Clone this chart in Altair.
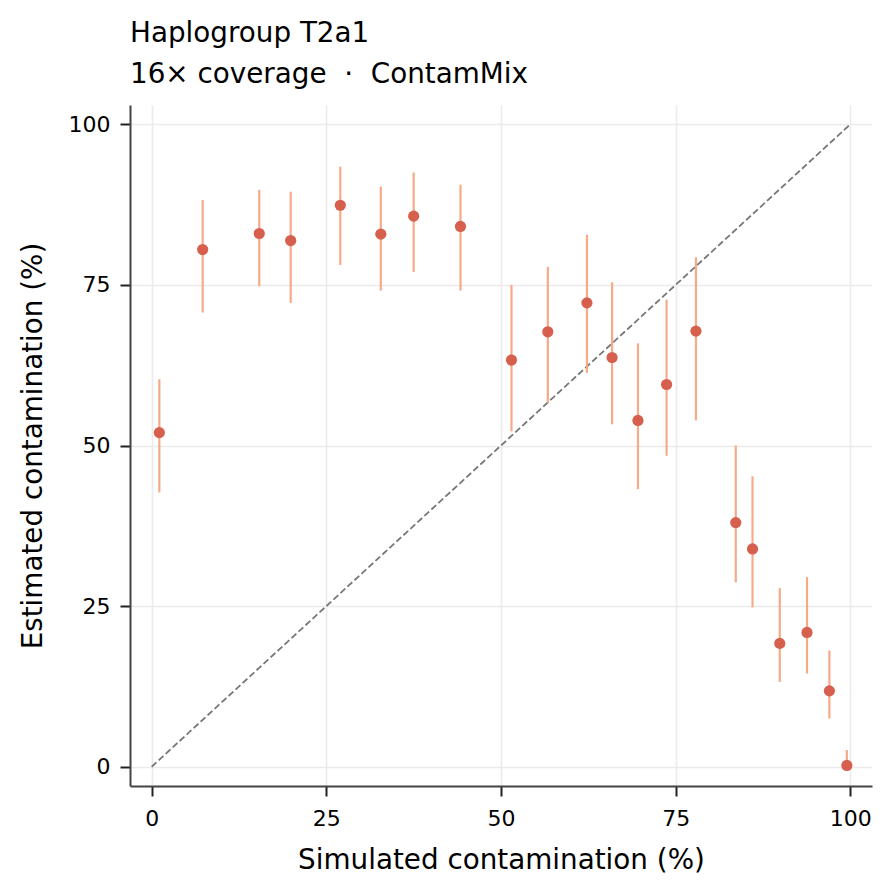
import altair as alt
import pandas as pd

# Data
simulated = [1.1, 7.3, 15.4, 19.9, 27.0, 32.8, 37.5, 44.2, 51.5, 56.7, 62.3, 65.9, 69.6, 73.7, 77.9,
             83.6, 86.0, 89.9, 93.8, 97.0, 99.5]
estimated = [52.0, 80.5, 83.0, 81.9, 87.4, 82.9, 85.7, 84.1, 63.3, 67.7, 72.2, 63.7, 53.9, 59.5, 67.8,
             38.0, 33.9, 19.2, 20.9, 11.8, 0.2]
ci_low = [42.7, 70.7, 74.8, 72.2, 78.1, 74.1, 77.0, 74.1, 52.2, 56.6, 61.3, 53.3, 43.2, 48.4, 53.9,
          28.7, 24.8, 13.2, 14.5, 7.5, 0.0]
ci_high = [60.3, 88.2, 89.8, 89.5, 93.4, 90.3, 92.5, 90.6, 75.0, 77.8, 82.8, 75.4, 65.9, 72.7, 79.3,
           50.0, 45.2, 27.8, 29.5, 18.1, 2.6]
diag_x = [0, 100]
diag_y = [0, 100]
ticks = [0, 25, 50, 75, 100]

df = pd.DataFrame({"sim": simulated, "est": estimated, "lo": ci_low, "hi": ci_high})
diag = pd.DataFrame({"sim": diag_x, "est": diag_y})

FONT = "DejaVu Sans"
xscale = alt.Scale(domain=[-3.1, 103.1], nice=False, zero=False)
yscale = alt.Scale(domain=[-3, 103], nice=False, zero=False)

xaxis = alt.Axis(values=ticks, title="Simulated contamination (%)", titleY=82.3,
                 titleBaseline="alphabetic", labelPadding=12)
yaxis = alt.Axis(values=ticks, title="Estimated contamination (%)", titleX=-89,
                 titleBaseline="alphabetic", titleAngle=270, labelPadding=10)

line = alt.Chart(diag).mark_line(color="#777777", strokeWidth=1.8, strokeDash=[6.5, 3]).encode(
    x=alt.X("sim:Q", scale=xscale, axis=xaxis),
    y=alt.Y("est:Q", scale=yscale, axis=yaxis),
)

bars = alt.Chart(df).mark_rule(color="#f4a582", strokeWidth=2.2, opacity=0.95).encode(
    x=alt.X("sim:Q", scale=xscale),
    y=alt.Y("lo:Q", scale=yscale),
    y2="hi:Q",
)

points = alt.Chart(df).mark_circle(color="#d6604d", size=125, opacity=1).encode(
    x=alt.X("sim:Q", scale=xscale),
    y=alt.Y("est:Q", scale=yscale),
)

chart = alt.layer(line, bars, points).properties(
    width=742,
    height=681,
    autosize=alt.AutoSizeParams(type="none"),
    padding={"left": 122, "top": 97, "right": 14, "bottom": 99},
    title=alt.Title(
        text="Haplogroup T2a1",
        subtitle="16× coverage \u00a0·\u00a0 ContamMix",
        anchor="start",
        frame="group",
        font=FONT,
        subtitleFont=FONT,
        fontSize=27.8,
        subtitleFontSize=27.8,
        fontWeight="normal",
        color="#000000",
        subtitleColor="#000000",
        offset=16,
        subtitlePadding=13,
    ),
).configure_view(stroke=None).configure_axis(
    labelFont=FONT,
    titleFont=FONT,
    labelFontSize=22,
    titleFontSize=27.8,
    titleFontWeight="normal",
    labelColor="#000000",
    titleColor="#000000",
    gridColor="#ebebeb",
    gridWidth=1.6,
    domainColor="#444444",
    domainWidth=2,
    tickColor="#222222",
    tickWidth=2,
    tickSize=10,
)

chart.save("out.html", embed_options={"renderer": "svg", "actions": False})
